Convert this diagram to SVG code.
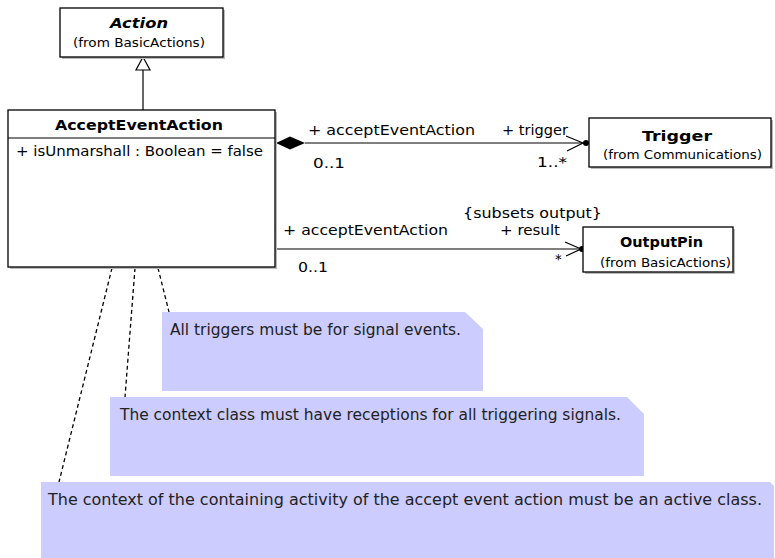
<svg xmlns="http://www.w3.org/2000/svg" width="775" height="558" viewBox="0 0 775 558">
<style>
text{font-family:"DejaVu Sans","Liberation Sans",sans-serif;fill:#000;}
.box{fill:#fff;stroke:#000;stroke-width:1.3;}
.shadow{fill:#bbb;}
.nm{font-size:14px;font-weight:bold;}
.fr{font-size:12px;}
.lb{font-size:13.5px;}
.nt{font-size:15px;fill:#222;}
.note{fill:#ccccff;}
.ln{stroke:#000;stroke-width:1.2;fill:none;}
.dash{stroke:#000;stroke-width:1.3;fill:none;stroke-dasharray:4 3;}
</style>
<g id="connectors">
<line class="ln" x1="143" y1="70" x2="143" y2="110"/>
<polygon points="143,57 136,70 150,70" fill="#fff" stroke="#000" stroke-width="1.2"/>
<line class="ln" x1="305" y1="143" x2="586" y2="143"/>
<polygon points="276,143 290,136.5 305,143 290,149.5" fill="#000"/>
<polyline class="ln" points="566,136 583,143 567,151"/>
<circle cx="586" cy="143" r="3" fill="#000"/>
<line class="ln" x1="275" y1="249" x2="582" y2="249"/>
<polyline class="ln" points="565,242 581,249 566,256"/>
<circle cx="582" cy="249" r="3" fill="#000"/>
<line class="dash" x1="112" y1="268" x2="59" y2="482"/>
<line class="dash" x1="135" y1="268" x2="125" y2="397"/>
<line class="dash" x1="158" y1="268" x2="169" y2="312"/>
<text class="lb" x="308" y="135" textLength="167" lengthAdjust="spacingAndGlyphs">+ acceptEventAction</text>
<text class="lb" x="502" y="135" textLength="66" lengthAdjust="spacingAndGlyphs">+ trigger</text>
<text class="lb" x="313" y="168" textLength="32" lengthAdjust="spacingAndGlyphs">0..1</text>
<text class="lb" x="537" y="167" textLength="30" lengthAdjust="spacingAndGlyphs">1..*</text>
<text class="lb" x="463" y="218" textLength="139" lengthAdjust="spacingAndGlyphs">{subsets output}</text>
<text class="lb" x="500" y="235" textLength="60" lengthAdjust="spacingAndGlyphs">+ result</text>
<text class="lb" x="283" y="235" textLength="165" lengthAdjust="spacingAndGlyphs">+ acceptEventAction</text>
<text class="lb" x="298" y="272" textLength="30" lengthAdjust="spacingAndGlyphs">0..1</text>
<text class="lb" x="555" y="264">*</text>
</g>
<g id="Action">
<rect class="shadow" x="62" y="10" width="163" height="49"/>
<rect class="box" x="60" y="8" width="163" height="49"/>
<text class="nm" x="110" y="28" font-style="italic" textLength="58" lengthAdjust="spacingAndGlyphs">Action</text>
<text class="fr" x="73" y="47" textLength="132" lengthAdjust="spacingAndGlyphs">(from BasicActions)</text>
</g>
<g id="AcceptEventAction">
<rect class="shadow" x="10" y="112" width="267" height="157"/>
<rect class="box" x="8" y="110" width="267" height="157"/>
<line class="ln" x1="8" y1="138" x2="275" y2="138"/>
<text class="nm" x="55" y="130" textLength="168" lengthAdjust="spacingAndGlyphs">AcceptEventAction</text>
<text class="lb" x="16" y="156" textLength="247" lengthAdjust="spacingAndGlyphs">+ isUnmarshall : Boolean = false</text>
</g>
<g id="Trigger">
<rect class="shadow" x="591" y="120" width="182" height="49"/>
<rect class="box" x="589" y="118" width="182" height="49"/>
<text class="nm" x="642" y="141" textLength="70" lengthAdjust="spacingAndGlyphs">Trigger</text>
<text class="fr" x="603" y="159" textLength="159" lengthAdjust="spacingAndGlyphs">(from Communications)</text>
</g>
<g id="OutputPin">
<rect class="shadow" x="585" y="229" width="150" height="45"/>
<rect class="box" x="583" y="227" width="150" height="45"/>
<text class="nm" x="620" y="247" textLength="83" lengthAdjust="spacingAndGlyphs">OutputPin</text>
<text class="fr" x="600" y="267" textLength="131" lengthAdjust="spacingAndGlyphs">(from BasicActions)</text>
</g>
<g id="note1">
<polygon class="note" points="162,312 465,312 483,329 483,391 162,391"/>
<text class="nt" x="170" y="335" textLength="291" lengthAdjust="spacingAndGlyphs">All triggers must be for signal events.</text>
</g>
<g id="note2">
<polygon class="note" points="110,397 627,397 644,414 644,476 110,476"/>
<text class="nt" x="120" y="420" textLength="501" lengthAdjust="spacingAndGlyphs">The context class must have receptions for all triggering signals.</text>
</g>
<g id="note3">
<polygon class="note" points="41,482 770,482 774,486 774,558 41,558"/>
<text class="nt" x="48" y="505" textLength="714" lengthAdjust="spacingAndGlyphs">The context of the containing activity of the accept event action must be an active class.</text>
</g>
</svg>
